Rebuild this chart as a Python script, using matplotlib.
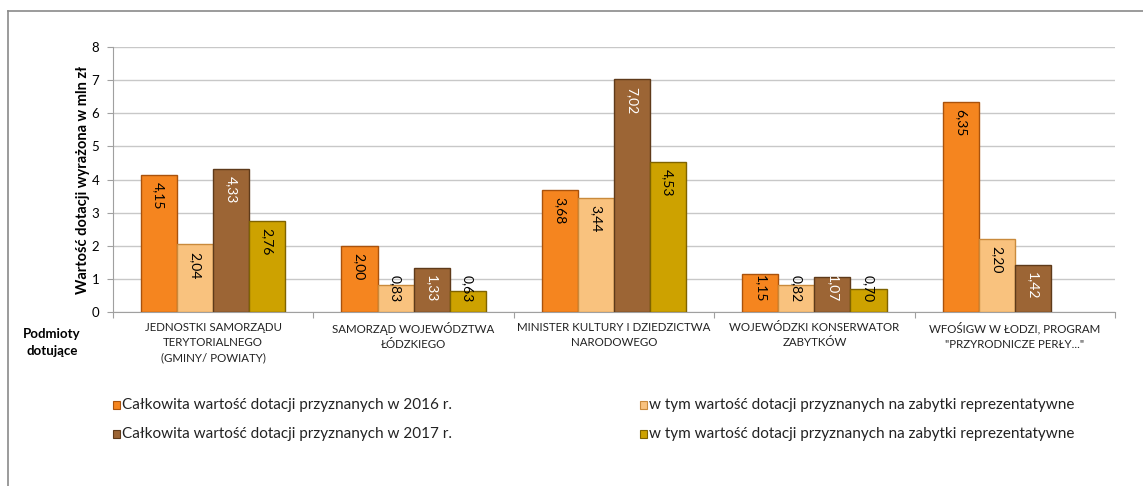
import matplotlib.pyplot as plt
import numpy as np
from matplotlib.patches import Rectangle
from matplotlib.lines import Line2D

plt.rcParams['font.family'] = ['Lato', 'DejaVu Sans']

categories = [
    "JEDNOSTKI SAMORZĄDU\nTERYTORIALNEGO\n(GMINY/ POWIATY)",
    "SAMORZĄD WOJEWÓDZTWA\nŁÓDZKIEGO",
    "MINISTER KULTURY I DZIEDZICTWA\nNARODOWEGO",
    "WOJEWÓDZKI KONSERWATOR\nZABYTKÓW",
    "WFOŚIGW W ŁODZI, PROGRAM\n\"PRZYRODNICZE PERŁY...\"",
]
total_2016 = [4.15, 2.00, 3.68, 1.15, 6.35]
repr_2016 = [2.04, 0.83, 3.44, 0.82, 2.20]
total_2017 = [4.33, 1.33, 7.02, 1.07, 1.42]
repr_2017 = [2.76, 0.63, 4.53, 0.70, np.nan]

series_names = [
    "Całkowita wartość dotacji przyznanych w 2016 r.",
    "w tym wartość dotacji przyznanych na zabytki reprezentatywne",
    "Całkowita wartość dotacji przyznanych w 2017 r.",
    "w tym wartość dotacji przyznanych na zabytki reprezentatywne",
]

# face, edge, label colour
STYLES = [
    ('#F5851F', '#A9520C', 'black'),
    ('#F9C27E', '#C98A3C', 'black'),
    ('#9C6535', '#5E3A1A', 'white'),
    ('#CDA200', '#7F6300', 'black'),
]

fig = plt.figure(figsize=(11.43, 4.86), dpi=100)

# outer chart border (only top and left visible)
fig.add_artist(Line2D([8 / 1143, 8 / 1143], [0, 1 - 11 / 486],
                      transform=fig.transFigure, color='#8a8a8a', lw=1.2))
fig.add_artist(Line2D([8 / 1143, 1], [1 - 11 / 486, 1 - 11 / 486],
                      transform=fig.transFigure, color='#8a8a8a', lw=1.2))

ax = fig.add_axes([113 / 1143, 174 / 486, 1002 / 1143, 265 / 486])

x = np.arange(len(categories)) + 0.5
width = 0.18
offsets = [-0.27, -0.09, 0.09, 0.27]
all_series = [total_2016, repr_2016, total_2017, repr_2017]

for vals, off, (face, edge, tcol) in zip(all_series, offsets, STYLES):
    ax.bar(x + off, vals, width, color=face, edgecolor=edge, linewidth=1.0,
           zorder=3)
    for xi, v in zip(x + off, vals):
        if np.isnan(v):
            continue
        ytop = max(v - 0.22, 1.12)
        ax.text(xi, ytop, f"{v:.2f}".replace('.', ','), rotation=270,
                ha='center', va='top', fontsize=10, color=tcol, zorder=4)

ax.set_xlim(0, 5)
ax.set_ylim(0, 8)
ax.set_yticks(range(0, 9))
ax.set_yticklabels([str(i) for i in range(0, 9)], fontsize=9.5)
ax.yaxis.grid(True, color='#c8c8c8', lw=1.0, zorder=0)
ax.set_axisbelow(True)

ax.set_xticks(range(0, 6))
ax.set_xticklabels([])
ax.tick_params(axis='x', length=4, color='#a0a0a0', direction='out')
ax.tick_params(axis='y', length=4, color='#a0a0a0', pad=6)

for xi, cat in zip(x, categories):
    ax.text(xi, -0.3, cat, ha='center', va='top', fontsize=8.3,
            color='#222222', linespacing=1.45, transform=ax.transData)

for side in ['top', 'right']:
    ax.spines[side].set_visible(False)
ax.spines['left'].set_color('#a0a0a0')
ax.spines['bottom'].set_color('#a0a0a0')

ax.set_ylabel('Wartość dotacji wyrażona w mln zł', fontsize=10.5,
              fontweight='bold', labelpad=1)

fig.text(52 / 1143, 1 - 342 / 486, 'Podmioty\ndotujące', ha='center',
         va='center', fontsize=9.5, fontweight='bold', linespacing=1.5)

# legend built by hand to match the two-column layout
leg_pos = [(113, 405), (640, 405), (113, 434), (640, 434)]
for (px, py), name, (face, edge, _) in zip(leg_pos, series_names, STYLES):
    fig.add_artist(Rectangle((px / 1143, 1 - (py + 4) / 486), 7 / 1143,
                             8 / 486, transform=fig.transFigure,
                             facecolor=face, edgecolor=edge, lw=0.8))
    fig.text((px + 9) / 1143, 1 - py / 486, name, ha='left', va='center',
             fontsize=11, color='#222222')

plt.savefig('out.png', dpi=100, facecolor='white')
